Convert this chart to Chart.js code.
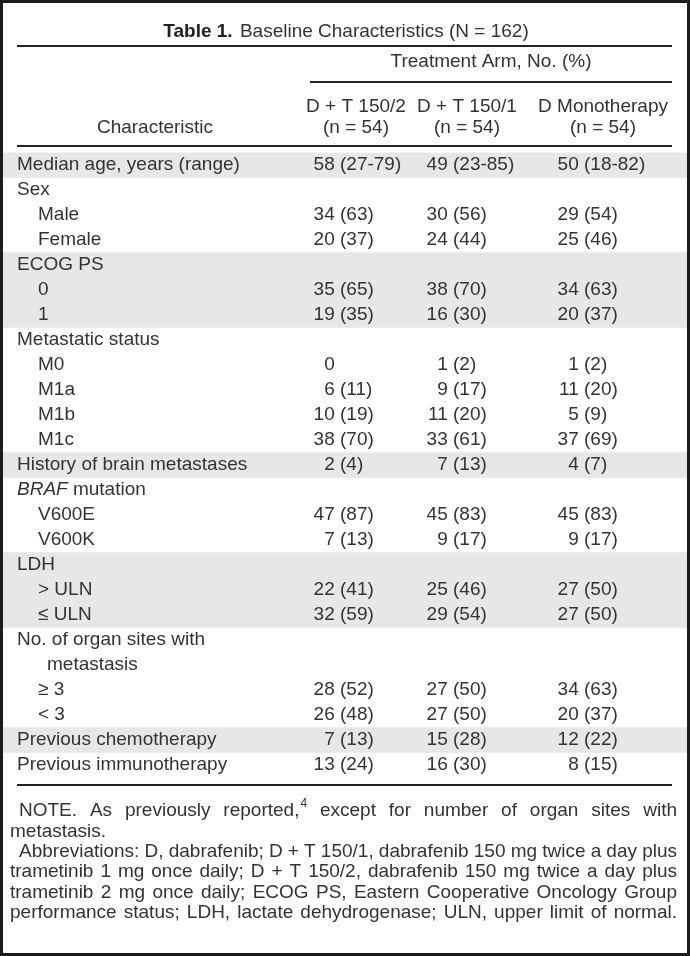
<!DOCTYPE html>
<html>
<head>
<meta charset="utf-8">
<script src="https://cdn.jsdelivr.net/npm/chart.js@4.4.0/dist/chart.umd.min.js"></script>
<style>
  html, body { margin: 0; padding: 0; background: #fff; }
  canvas { display: block; }
</style>
</head>
<body>
<canvas id="table1" width="690" height="956"></canvas>
<script>
// rows of the table (first column); *text* = italic
const characteristics = [
  'Median age, years (range)', 'Sex', 'Male', 'Female',
  'ECOG PS', '0', '1',
  'Metastatic status', 'M0', 'M1a', 'M1b', 'M1c',
  'History of brain metastases',
  '*BRAF* mutation', 'V600E', 'V600K',
  'LDH', '> ULN', '\u2264 ULN',
  'No. of organ sites with', 'metastasis', '\u2265 3', '< 3',
  'Previous chemotherapy', 'Previous immunotherapy'
];
// 0 = group heading, 1 = sub row, 2 = wrapped continuation
const indentLevel = [0, 0, 1, 1, 0, 1, 1, 0, 1, 1, 1, 1, 0, 0, 1, 1, 0, 1, 1, 0, 2, 1, 1, 0, 0];

const armDT150_2 = ['58 (27-79)', '', '34 (63)', '20 (37)', '', '35 (65)', '19 (35)',
  '', '0', '6 (11)', '10 (19)', '38 (70)', '2 (4)', '', '47 (87)', '7 (13)',
  '', '22 (41)', '32 (59)', '', '', '28 (52)', '26 (48)', '7 (13)', '13 (24)'];
const armDT150_1 = ['49 (23-85)', '', '30 (56)', '24 (44)', '', '38 (70)', '16 (30)',
  '', '1 (2)', '9 (17)', '11 (20)', '33 (61)', '7 (13)', '', '45 (83)', '9 (17)',
  '', '25 (46)', '29 (54)', '', '', '27 (50)', '27 (50)', '15 (28)', '16 (30)'];
const armMono = ['50 (18-82)', '', '29 (54)', '25 (46)', '', '34 (63)', '20 (37)',
  '', '1 (2)', '11 (20)', '5 (9)', '37 (69)', '4 (7)', '', '45 (83)', '9 (17)',
  '', '27 (50)', '27 (50)', '', '', '34 (63)', '20 (37)', '12 (22)', '8 (15)'];

const columnHeads = [['D + T 150/2', '(n = 54)'], ['D + T 150/1', '(n = 54)'], ['D Monotherapy', '(n = 54)']];
const titleBold = 'Table 1.';
const titleText = 'Baseline Characteristics (N = 162)';
const spanner = 'Treatment Arm, No. (%)';
const noteLines = [
  ['NOTE. As previously reported,^4 except for number of organ sites with', true, true],
  ['metastasis.', false, false],
  ['Abbreviations: D, dabrafenib; D + T 150/1, dabrafenib 150 mg twice a day plus', true, true],
  ['trametinib 1 mg once daily; D + T 150/2, dabrafenib 150 mg twice a day plus', false, true],
  ['trametinib 2 mg once daily; ECOG PS, Eastern Cooperative Oncology Group', false, true],
  ['performance status; LDH, lactate dehydrogenase; ULN, upper limit of normal.', false, true]
];

// alternate shading per group of rows
let grp = -1;
const shaded = indentLevel.map(l => { if (l === 0) grp++; return grp % 2 === 0; });

const FONT = '"Liberation Sans", Arial, sans-serif';
const INK = '#333333';
const f = (size, style) => (style || '') + ' ' + size + 'px ' + FONT;

const cellAnchor = [340, 453, 584];   // x of "(" in each arm column
const headCenter = [356, 467, 603];
const labelX = [17, 38, 47];

function wordWidth(ctx, w) {
  const p = w.split('^');
  ctx.font = f(19);
  let wd = ctx.measureText(p[0]).width;
  if (p[1]) { ctx.font = f(12); wd += ctx.measureText(p[1]).width + 1; }
  return wd;
}
function drawWord(ctx, w, x, y) {
  const p = w.split('^');
  ctx.textAlign = 'left';
  ctx.font = f(19);
  ctx.fillText(p[0], x, y);
  if (p[1]) {
    const bw = ctx.measureText(p[0]).width;
    ctx.font = f(12);
    ctx.fillText(p[1], x + bw + 1, y - 7);
  }
}

const tablePlugin = {
  id: 'tableText',
  afterDraw(chart) {
    const ctx = chart.ctx;
    const xs = chart.scales.x, ys = chart.scales.y;
    ctx.save();
    ctx.fillStyle = INK;
    ctx.textBaseline = 'middle';

    // title
    ctx.font = f(19, 'bold');
    const wb = ctx.measureText(titleBold + ' ').width;
    ctx.font = f(19);
    const wt = ctx.measureText(titleText).width;
    let tx = 345 - (wb + wt) / 2;
    ctx.textAlign = 'left';
    ctx.font = f(19, 'bold');
    ctx.fillStyle = '#222';
    ctx.fillText(titleBold, tx, 32);
    ctx.fillStyle = INK;
    ctx.font = f(19);
    ctx.fillText(titleText, tx + wb + 2, 32);

    // rules
    ctx.fillStyle = '#222';
    ctx.fillRect(17, 45, 655, 2);
    ctx.fillRect(310, 81, 362, 2);
    ctx.fillRect(17, 145, 655, 2);
    ctx.fillRect(17, 784, 655, 2);
    ctx.fillStyle = INK;

    // column headings
    ctx.font = f(19);
    ctx.textAlign = 'center';
    ctx.fillText(spanner, 491, 62);
    columnHeads.forEach((h, i) => {
      ctx.fillText(h[0], xs.getPixelForValue(headCenter[i]), 107);
      ctx.fillText(h[1], xs.getPixelForValue(headCenter[i]), 128);
    });
    ctx.fillText('Characteristic', 155, 128);

    // body rows
    const sp = ctx.measureText(' ').width;
    characteristics.forEach((lab, r) => {
      const yy = ys.getPixelForValue(r);
      let lx = xs.getPixelForValue(labelX[indentLevel[r]]);
      ctx.textAlign = 'left';
      const m = lab.match(/^\*(.+?)\*(.*)$/);
      if (m) {
        ctx.font = f(19, 'italic');
        ctx.fillText(m[1], lx, yy);
        lx += ctx.measureText(m[1]).width;
        ctx.font = f(19);
        ctx.fillText(m[2], lx, yy);
      } else {
        ctx.font = f(19);
        ctx.fillText(lab, lx, yy);
      }
      ctx.font = f(19);
      [armDT150_2, armDT150_1, armMono].forEach((col, c) => {
        const s = col[r];
        if (!s) return;
        const k = s.indexOf(' (');
        const ax = xs.getPixelForValue(cellAnchor[c]);
        const num = k < 0 ? s : s.slice(0, k);
        ctx.textAlign = 'right';
        ctx.fillText(num, ax - sp, yy);
        if (k >= 0) {
          ctx.textAlign = 'left';
          ctx.fillText(s.slice(k + 1), ax, yy);
        }
      });
    });

    // footnotes, justified
    noteLines.forEach((ln, i) => {
      const yy = 811 + i * 20.4;
      const x0 = ln[1] ? 19 : 10, x1 = 677;
      const words = ln[0].split(' ');
      const ws = words.map(w => wordWidth(ctx, w));
      const tot = ws.reduce((a, b) => a + b, 0);
      ctx.font = f(19);
      const gap = ln[2] ? (x1 - x0 - tot) / (words.length - 1) : ctx.measureText(' ').width;
      let cx = x0;
      words.forEach((w, j) => { drawWord(ctx, w, cx, yy); cx += ws[j] + gap; });
    });

    // frame
    ctx.strokeStyle = '#1c1c1c';
    ctx.lineWidth = 3;
    ctx.strokeRect(1.5, 1.5, 687, 953);
    ctx.restore();
  }
};

new Chart(document.getElementById('table1'), {
  type: 'bar',
  data: {
    labels: characteristics,
    datasets: [{
      data: shaded.map(s => s ? [3, 687] : null),
      backgroundColor: '#e6e7e7',
      borderWidth: 0,
      barPercentage: 1,
      categoryPercentage: 1
    }]
  },
  options: {
    indexAxis: 'y',
    responsive: false,
    animation: false,
    layout: { padding: { top: 152.5, bottom: 178.5, left: 0, right: 0 } },
    scales: {
      x: { type: 'linear', min: 0, max: 690, display: false },
      y: { type: 'category', display: false }
    },
    plugins: { legend: { display: false }, tooltip: { enabled: false } }
  },
  plugins: [tablePlugin]
});
</script>
</body>
</html>
